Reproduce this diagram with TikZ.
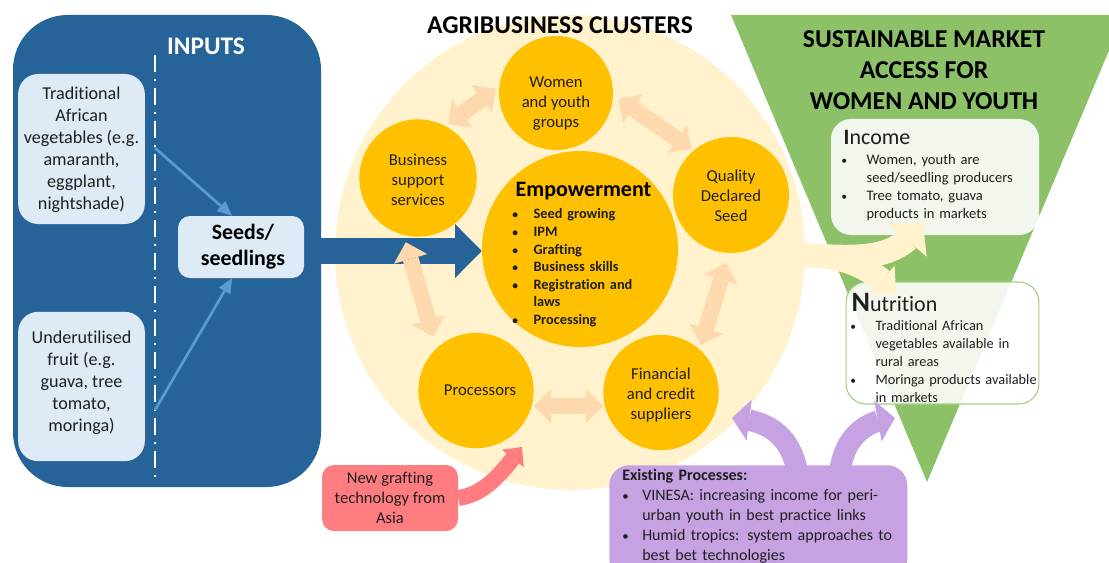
\documentclass[tikz,border=0pt]{standalone}
\usepackage{fontspec}
\setmainfont[Ligatures=NoCommon]{Carlito}
\usetikzlibrary{arrows.meta,shapes.geometric,bending}
\definecolor{inblue}{HTML}{266399}
\definecolor{palebox}{HTML}{DEEBF7}
\definecolor{linkblue}{HTML}{5B9BD5}
\definecolor{clusterbg}{HTML}{FFF2CC}
\definecolor{gold}{HTML}{FFC000}
\definecolor{peach}{HTML}{FFD9AE}
\definecolor{tri}{HTML}{8CC168}
\definecolor{purp}{HTML}{C6A2E2}
\definecolor{redbox}{HTML}{FF7C80}
\definecolor{ink}{HTML}{1F1F1F}
\newcommand{\fsz}[2]{\fontsize{#1}{#2}\selectfont}
\newcommand{\bitem}[2]{\par\hangindent=#1\hangafter=1\noindent\hbox to #1{\scalebox{.8}{\textbullet}\hfil}#2\par}
\tikzset{
  x=0.75pt,y=-0.75pt,
  cluster/.style={circle,fill=gold,inner sep=0pt,minimum size=#1},
  clustertext/.style={inner sep=0pt,align=center,text=ink,font=\fsz{12.5}{15}},
  palenode/.style={rectangle,rounded corners=15pt,fill=palebox,inner sep=0pt},
  paletext/.style={inner sep=0pt,align=center,text=ink,font=\fsz{13.6}{16.5}},
  duo/.style={draw=peach,line width=12pt,{Triangle[length=13pt,width=26pt,line width=0pt]}-{Triangle[length=13pt,width=26pt,line width=0pt]}},
  thinlink/.style={draw=linkblue,line width=2pt,-{Triangle[length=11pt,width=10pt,line width=0pt]}},
  cream/.style={draw=clusterbg,line width=18pt},
  purplink/.style={draw=purp,line width=16pt,-{Triangle[length=13pt,width=31pt,line width=0pt,flex=1]}},
  titlefont/.style={font=\bfseries\fsz{19.3}{23.3},align=center,text=black},
}
\begin{document}
\begin{tikzpicture}
\useasboundingbox (0,0) rectangle (1109,563);
\clip (0,0) rectangle (1109,563);
\fill[white] (0,0) rectangle (1109,563);
% backgrounds
\node[ellipse,fill=clusterbg,inner sep=0pt,minimum width=352.5pt,minimum height=356pt] (bg) at (570,252.5) {};
\fill[tri] (731,15) -- (1124,15) -- (927,482) -- cycle;
\node[rectangle,rounded corners=41pt,fill=inblue,inner sep=0pt,minimum width=231pt,minimum height=354pt] (inputs) at (167,251) {};
\node[font=\bfseries\fsz{19}{22},text=white] (inputst) at (206,46) {INPUTS};
% dash-dot
\coordinate (dtop) at (155,55);
\coordinate (dbot) at (155,480);
\draw[white,line width=1.6pt,dash pattern=on 12.75pt off 5.25pt on 1.5pt off 5.25pt] (dtop) -- (dbot);
\coordinate (dup) at (155,148);
\coordinate (ddown) at (155,410);
% input boxes
\node[palenode,minimum width=95pt,minimum height=112.5pt] (veg) at (81.5,149) {};
\node[paletext] (vegt) at (81.5,150) {Traditional\\African\\vegetables (e.g.\\amaranth,\\eggplant,\\nightshade)};
\node[palenode,minimum width=95pt,minimum height=112pt] (fruit) at (81.5,386.5) {};
\node[paletext] (fruitt) at (81.5,382.5) {Underutilised\\fruit (e.g.\\guava, tree\\tomato,\\moringa)};
\node[palenode,rounded corners=9pt,minimum width=94.5pt,minimum height=46.5pt] (seeds) at (241,247) {};
\node[inner sep=0pt,align=center,text=black,font=\bfseries\fsz{16.4}{19.6}] (seedst) at (243,247) {Seeds/\\seedlings};
\draw[thinlink] (dup) -- (seeds.north -| 232,0);
\draw[thinlink] (ddown) -- (seeds.south -| 232,0);
% clusters
\node[cluster=85.5pt] (women) at (556,93) {};
\node[clustertext] (womt) at (556,104) {Women\\and youth\\groups};
\node[cluster=88pt] (biz) at (418,178) {};
\node[clustertext] (bizt) at (418,180) {Business\\support\\services};
\node[cluster=87pt] (qds) at (731,195) {};
\node[clustertext] (qdst) at (731,196) {Quality\\Declared\\Seed};
\node[cluster=86.5pt] (fin) at (661,392.5) {};
\node[clustertext] (fint) at (661,395.5) {Financial\\and credit\\suppliers};
\node[cluster=86.5pt] (proc) at (476,390.5) {};
\node[clustertext] (proct) at (480,390.5) {Processors};
\node[circle,fill=gold,inner sep=0pt,minimum size=147pt] (emp) at (580,249) {};
% blue main arrow
\draw[draw=inblue,line width=20.2pt,-{Triangle[length=20pt,width=40.5pt,line width=0pt]}] (inputs.east) -- (emp.west |- inputs.east);
% two-way links
\draw[duo,shorten <=2.5pt,shorten >=3.3pt] (biz.62) -- (women.173.5);
\draw[duo,shorten <=5pt,shorten >=2pt] (women.-2) -- (qds.130);
\draw[duo,shorten <=5.5pt,shorten >=9pt] (biz.-104) -- (proc.133.5);
\draw[duo,shorten <=7.5pt,shorten >=3.3pt] (qds.-92.5) -- (fin.48.6);
\draw[duo] (proc.east |- 0,406) -- (fin.west |- 0,406);
\node[font=\bfseries\fsz{16.5}{18},text=black] (empt) at (583.5,191) {Empowerment};
\node[anchor=north west,text width=110pt,inner sep=0pt,align=left,font=\bfseries\fsz{10.75}{13.2},text=ink] (emplist) at (512,201)
  {\bitem{16pt}{Seed growing}\bitem{16pt}{IPM}\bitem{16pt}{Grafting}\bitem{16pt}{Business skills}\bitem{16pt}{Registration and\newline laws}\bitem{16pt}{Processing}};
% titles
\node[font=\bfseries\fsz{19.2}{22},text=black] (agri) at (560,25) {AGRIBUSINESS CLUSTERS};
\node[titlefont] (market) at (924,70) {SUSTAINABLE MARKET\\ACCESS FOR\\WOMEN AND YOUTH};
% outcome boxes
\node[rectangle,rounded corners=15pt,fill=white,fill opacity=.88,text opacity=1,inner sep=0pt,minimum width=156pt,minimum height=87pt] (income) at (935,177) {};
\node[anchor=west,font=\fsz{16.5}{20},text=ink] (incomet) at (839,137) {\textbf{I}ncome};
\node[anchor=north west,inner sep=0pt,text width=150pt,align=left,font=\fsz{10.9}{13.3},text=ink] (incl) at (841,147)
  {\bitem{19pt}{Women, youth are\newline seed/seedling producers}\bitem{19pt}{Tree tomato, guava\newline products in markets}};
\node[rectangle,rounded corners=15pt,draw=tri!80!white,line width=.8pt,fill=white,fill opacity=.88,text opacity=1,inner sep=0pt,minimum width=144.5pt,minimum height=91.5pt] (nutr) at (942.5,343) {};
\node[anchor=west,font=\fsz{16.5}{20},text=ink] (nutrt) at (847,303) {\textbf{\fontsize{21}{20}\selectfont N}utrition};
\node[anchor=north west,inner sep=0pt,text width=150pt,align=left,font=\fsz{10.75}{13.4},text=ink] (nutl) at (850,312.5)
  {\bitem{19pt}{Traditional African\newline vegetables available in\newline rural areas}\bitem{19pt}{Moringa products available\newline in markets}};
% cream arrows
\coordinate (creamstart) at (800,255);
\coordinate (creamA) at (923,222);
\coordinate (creamB) at (896,293);
\draw[cream,-{Triangle[length=18pt,width=38pt,line width=0pt,flex=1]}] (creamstart) .. controls (860,258) and (897,262) .. (creamA);
\draw[cream,-{Triangle[length=14.5pt,width=29pt,line width=0pt,flex=1]}] (creamstart) .. controls (840,256) and (865,262) .. (creamB);
% new grafting
\node[rectangle,rounded corners=9pt,fill=redbox,inner sep=0pt,minimum width=102pt,minimum height=49.5pt] (graft) at (390,498) {};
\node[inner sep=0pt,align=center,text=ink,font=\fsz{12.4}{15}] (graftt) at (390,498) {New grafting\\technology from\\Asia};
\coordinate (grafttip) at (522,447);
\draw[draw=redbox,line width=12pt,-{Triangle[length=11pt,width=21pt,line width=0pt,flex=1]}] (graft.east) .. controls (485,494) and (500,475) .. (grafttip);
% existing
\node[anchor=north west,rectangle,rounded corners=15pt,fill=purp,inner sep=0pt,minimum width=223.5pt,minimum height=85pt] (exist) at (609,465) {};
\node[anchor=north west,inner sep=0pt,text width=212pt,align=left,font=\fsz{12}{15},text=ink] (existt) at (622,469)
  {\noindent\textbf{Existing Processes:}\bitem{15pt}{VINESA: increasing income for peri-\newline urban youth in best practice links}\bitem{15pt}{Humid tropics: system approaches to\newline best bet technologies}};
\coordinate (purpL) at (732,418);
\coordinate (purpR) at (895,418);
\draw[purplink] (797,470) .. controls (790,437) and (770,420) .. (purpL);
\draw[purplink] (840,470) .. controls (845,437) and (865,420) .. (purpR);
\end{tikzpicture}
\end{document}
